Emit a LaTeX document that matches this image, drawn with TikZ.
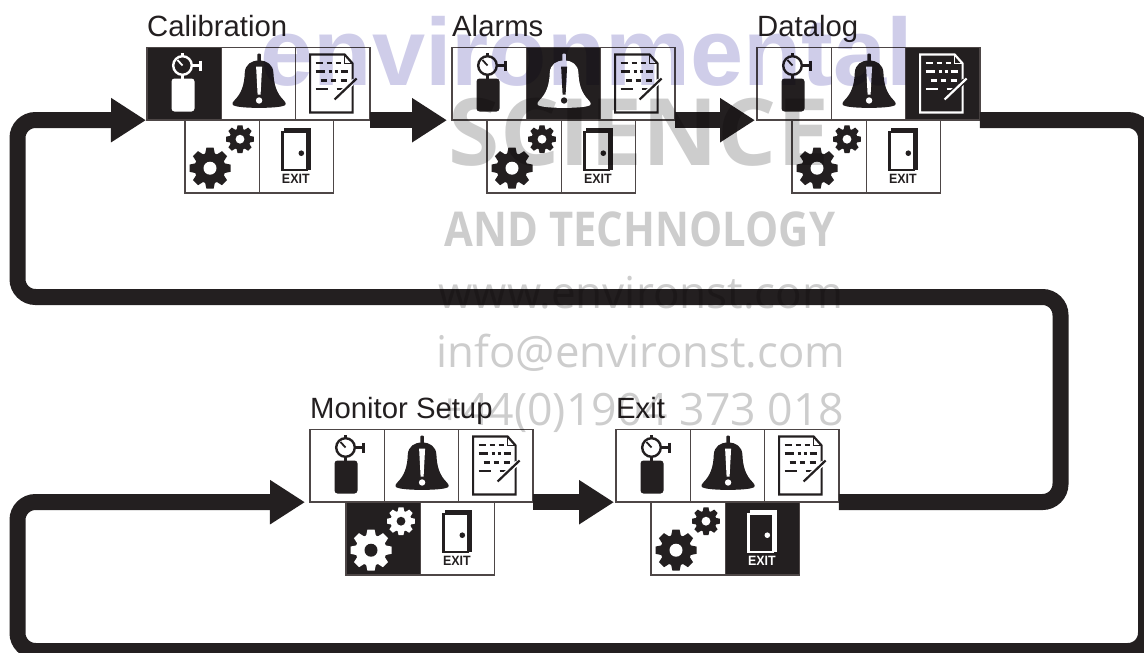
\documentclass[tikz,border=0pt]{standalone}
\usepackage{fontspec}
\setmainfont{Liberation Sans}
\newfontfamily\markfont{Open Sans}
\usetikzlibrary{arrows.meta}

\definecolor{ink}{HTML}{231F20}
\definecolor{edgegray}{HTML}{4D4646}
\definecolor{marklav}{HTML}{CFCDE9}
\definecolor{markgray}{HTML}{CDCDCD}

\tikzset{
 CellStyle/.style = {draw=edgegray, line width=1.5pt, inner sep=0pt, outer sep=0pt,
   minimum width=74.3pt, minimum height=72.7pt, anchor=north west},
 TitleStyle/.style = {font=\fontsize{29.3}{32}\selectfont, text=ink, inner sep=0pt, anchor=base west},
 FlowStyle/.style = {draw=ink, line width=16pt, rounded corners=18pt, line cap=butt},
 ArrowStyle/.style = {FlowStyle, -{Triangle[length=35pt,width=42pt,fill=ink]}, shorten >=2pt},
 MarkStyle/.style = {inner sep=0pt, anchor=base}
}

% icons, in the coordinates of one cell
\newcommand{\GaugeIcon}[1]{
 \fill[cellfg, rounded corners=3pt] (24.5,64) rectangle (47.5,31);
 \draw[cellfg, line width=2.4pt] (35.5,26) -- (35.5,32);
 \draw[cellfg, line width=2.4pt] (35.5,5.5) -- (35.5,9);
 \draw[cellfg, line width=2.4pt] (45,18) -- (53,18);
 \draw[cellfg, line width=2.4pt] (53.5,13) -- (53.5,23);
 \filldraw[draw=cellfg, fill=cellbg, line width=2.4pt] (35.5,18) circle[radius=9.3];
 \draw[cellfg, line width=1.8pt] (35.5,18) -- (30.5,12.5);
}
\newcommand{\BellIcon}[1]{
 \fill[cellfg, rounded corners=1pt] (36,6) rectangle (39.6,15);
 \fill[cellfg] (37.8,13) .. controls (30,13) and (24,17) .. (23.5,25)
   .. controls (23,38) and (20,46) .. (13,53) .. controls (10,56) and (11,58) .. (14,58.5)
   .. controls (22,61) and (53.6,61) .. (61.6,58.5) .. controls (64.6,58) and (65.6,56) .. (62.6,53)
   .. controls (55.6,46) and (52.6,38) .. (52.1,25) .. controls (51.6,17) and (45.6,13) .. (37.8,13);
 \fill[cellbg] (34.8,19) -- (40.8,19) -- (39.3,47) -- (36.3,47) -- cycle;
 \fill[cellbg] (37.8,53) circle[radius=3.2];
}
\newcommand{\DocIcon}[1]{
 \draw[cellfg, line width=2.2pt, line join=miter] (14.5,7) -- (49,7) -- (57,16) -- (57,65) -- (14.5,65) -- cycle;
 \draw[cellfg, line width=1pt] (49,7) -- (49,16) -- (57,16);
 \foreach \ya/\xa/\xb in {15.5/20/27, 15.5/31/36, 15.5/40/45, 24/20/29, 24/33/36, 24/39/42, 24/45/52,
   33/25/31, 33/35/40, 33/45/51, 41.5/20/32, 41.5/41/47}
   \draw[cellfg, line width=2.6pt] (\xa,\ya) -- (\xb,\ya);
 \draw[cellbg, line width=5pt] (41,50) -- (59,33);
 \draw[cellfg, line width=2.2pt] (39,52) -- (61,31);
}
\newcommand{\GearShape}[3]{
 \begin{scope}[shift={(#1,#2)}, scale=#3]
  \fill[cellfg] (0,0) circle[radius=15.5];
  \foreach \a in {0,45,...,315}
   \fill[cellfg, rotate=\a] (-5.2,13) -- (-3.6,20.5) -- (3.6,20.5) -- (5.2,13) -- cycle;
  \fill[cellbg] (0,0) circle[radius=6.5];
 \end{scope}
}
\newcommand{\GearIcon}[1]{
 \GearShape{25}{48}{1}
 \GearShape{55}{19}{.68}
}
\newcommand{\DoorIcon}[1]{
 \draw[cellfg, line width=3pt] (25,9) -- (50.5,9) -- (50.5,48) -- (47,48);
 \filldraw[draw=cellfg, fill=cellbg, line width=2.4pt] (23,12) rectangle (47.5,50);
 \fill[cellfg] (42,33) circle[radius=2.8];
 \node[inner sep=0pt, text=cellfg, font=\fontsize{13.5}{14}\bfseries\selectfont] (exit#1) at (36.5,59) {\scalebox{.92}[1]{EXIT}};
}

% name, left, top, shift of the lower row, lit cell, title
\newcommand{\MenuPanel}[6]{
 \foreach \i/\c/\dx/\dy/\icon in {1/a/0/0/\GaugeIcon, 2/b/74.3/0/\BellIcon, 3/c/148.6/0/\DocIcon,
   4/d/#4/72.7/\GearIcon, 5/e/#4+74.3/72.7/\DoorIcon} {
  \ifnum\i=#5
   \colorlet{cellfg}{white}\colorlet{cellbg}{ink}
  \else
   \colorlet{cellfg}{ink}\colorlet{cellbg}{white}
  \fi
  \node[CellStyle, fill=cellbg] (#1\c) at (#2+\dx,#3+\dy) {};
  \begin{scope}[shift={(#1\c.north west)}]
   \icon{#1}
  \end{scope}
 }
 \node[TitleStyle] (#1title) at ([yshift=11pt]#1a.north west) {#6};
}

\begin{document}
\begin{tikzpicture}[x=1pt, y=-1pt]
\useasboundingbox (0,0) rectangle (1144,653);
\clip (0,0) rectangle (1144,653);

\coordinate (RailA) at (1146,120);
\coordinate (RailB) at (1146,651);
\coordinate (RailC) at (17.5,651);
\coordinate (RailD) at (17.5,502);
\coordinate (LoopA) at (1060.5,502);
\coordinate (LoopB) at (1060.5,297);
\coordinate (LoopC) at (17.5,297);
\coordinate (LoopD) at (17.5,120);

\MenuPanel{cal}{147}{47.5}{38}{1}{Calibration}
\MenuPanel{ala}{452}{47.5}{35}{2}{Alarms}
\MenuPanel{dat}{757}{47.5}{35}{3}{Datalog}
\MenuPanel{mon}{310}{429.5}{36}{4}{Monitor Setup}
\MenuPanel{ext}{616}{429.5}{35}{5}{Exit}

\draw[ArrowStyle, shorten >=5pt] (calc.south east) -- (alaa.south west);
\draw[ArrowStyle] (alac.south east) -- (data.south west);
\draw[ArrowStyle] (monc.south east) -- (exta.south west);
\draw[ArrowStyle, shorten >=1pt] (extc.south east) -- (LoopA) -- (LoopB) -- (LoopC) -- (LoopD) -- (cala.south west);
\draw[ArrowStyle, shorten >=5pt] (datc.south east) -- (RailA) -- (RailB) -- (RailC) -- (RailD) -- (mona.south west);

\begin{scope}[blend mode=multiply]
\node[MarkStyle, text=marklav, font=\fontsize{95.5}{100}\bfseries\selectfont] (mark1) at (587,85) {environmental};
\node[MarkStyle, text=markgray, font=\markfont\fontsize{93}{100}\bfseries\selectfont] (mark2) at (639,165) {SCIENCE};
\node[MarkStyle, text=markgray, font=\markfont\fontsize{48}{50}\bfseries\selectfont] (mark3) at (640,246) {\scalebox{.87}[1]{AND TECHNOLOGY}};
\node[MarkStyle, text=markgray, font=\markfont\fontsize{44}{50}\selectfont] (mark4) at (641,308) {www.environst.com};
\node[MarkStyle, text=markgray, font=\markfont\fontsize{43.7}{50}\selectfont] (mark5) at (641,367) {info@environst.com};
\node[MarkStyle, text=markgray, font=\markfont\fontsize{44.6}{50}\selectfont] (mark6) at (641,425) {+44(0)1904 373 018};
\end{scope}
\end{tikzpicture}
\end{document}
